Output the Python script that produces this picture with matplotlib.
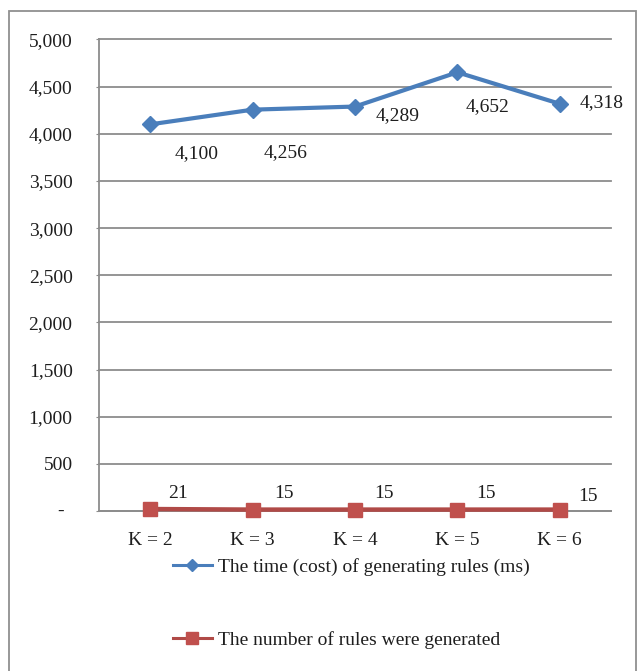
import matplotlib
matplotlib.use("Agg")
import matplotlib.pyplot as plt
from matplotlib.patches import Rectangle
from matplotlib.lines import Line2D

plt.rcParams["font.family"] = ["Liberation Serif", "DejaVu Serif"]

categories = ["K = 2", "K = 3", "K = 4", "K = 5", "K = 6"]
time_ms = [4100, 4256, 4289, 4652, 4318]
rule_counts = [21, 15, 15, 15, 15]
y_ticks = [0, 500, 1000, 1500, 2000, 2500, 3000, 3500, 4000, 4500, 5000]

time_label = "The time (cost) of generating rules (ms)"
count_label = "The number of rules were generated"

# label offsets in pixels (right, up) relative to each point
time_offsets = [(46, -29), (33, -43), (43, -9), (30, -34), (42, 1)]
count_offsets = [(28, 16), (31, 16), (29, 16), (29, 16), (28, 13)]

W, H, DPI = 641, 671, 100
blue = "#4a7ebb"
red = "#c0504d"
red_line = "#b04a47"
grid_c = "#8c8c8c"
text_c = "#1e1e1e"

fig = plt.figure(figsize=(W / DPI, H / DPI), dpi=DPI)
fig.patch.set_facecolor("white")

# outer chart border
fig.patches.append(Rectangle((9 / W, -5 / H), (636 - 9) / W, (H - 11 + 5) / H,
                             transform=fig.transFigure, fill=False,
                             edgecolor="#909090", linewidth=1.3))

left, right, top, bottom = 99, 611, 39.5, 511
ax = fig.add_axes([left / W, (H - bottom) / H, (right - left) / W, (bottom - top) / H])

x = list(range(len(categories)))
ax.plot(x, time_ms, color=blue, linewidth=3.0, marker="D", markersize=8.5,
        markerfacecolor=blue, markeredgecolor=blue, zorder=4)
ax.plot(x, rule_counts, color=red_line, linewidth=3.2, marker="s", markersize=10.5,
        markerfacecolor=red, markeredgecolor=red, zorder=4, clip_on=False)

for xi, v, (dx, dy) in zip(x, time_ms, time_offsets):
    ax.annotate(f"{v:,}", (xi, v), xytext=(dx, dy), textcoords="offset pixels",
                ha="center", va="center", fontsize=14, color=text_c)
for xi, v, (dx, dy) in zip(x, rule_counts, count_offsets):
    ax.annotate(f"{v:,}", (xi, v), xytext=(dx, dy), textcoords="offset pixels",
                ha="center", va="center", fontsize=14, color=text_c)

ax.set_xlim(-0.5, len(categories) - 0.5)
ax.set_ylim(0, 5000)
ax.set_yticks(y_ticks)
ax.set_yticklabels([f"{t:,}" if t else "" for t in y_ticks])
ax.set_xticks(x)
ax.set_xticklabels(categories)

ax.yaxis.grid(True, color=grid_c, linewidth=1.3)
for gl in ax.get_ygridlines():
    gl.set_clip_on(False)
ax.set_axisbelow(True)
for s in ["top", "right"]:
    ax.spines[s].set_visible(False)
for s in ["left", "bottom"]:
    ax.spines[s].set_color(grid_c)
    ax.spines[s].set_linewidth(1.3)

ax.tick_params(axis="y", length=2, color=grid_c, pad=17, labelsize=14, labelcolor=text_c)
ax.tick_params(axis="x", length=0, pad=15, labelsize=14, labelcolor=text_c)

# zero shown as a dash, as in accounting number format
ax.annotate("-", (0, 0), xycoords=("axes fraction", "data"), xytext=(-38, 0),
            textcoords="offset pixels", ha="center", va="center",
            fontsize=14, color=text_c)

handles = [
    Line2D([], [], color=blue, linewidth=2.2, marker="D", markersize=6,
           markerfacecolor=blue, markeredgecolor=blue),
    Line2D([], [], color=red_line, linewidth=2.2, marker="s", markersize=9,
           markerfacecolor=red, markeredgecolor=red),
]
fig.legend(handles, [time_label, count_label], loc="upper left",
           bbox_to_anchor=(173 / W, (H - 558) / H), frameon=False, borderpad=0,
           borderaxespad=0, fontsize=14, labelspacing=2.85, handlelength=2.0,
           handletextpad=0.3, labelcolor=text_c)

fig.savefig("out.png", dpi=DPI, facecolor="white")
